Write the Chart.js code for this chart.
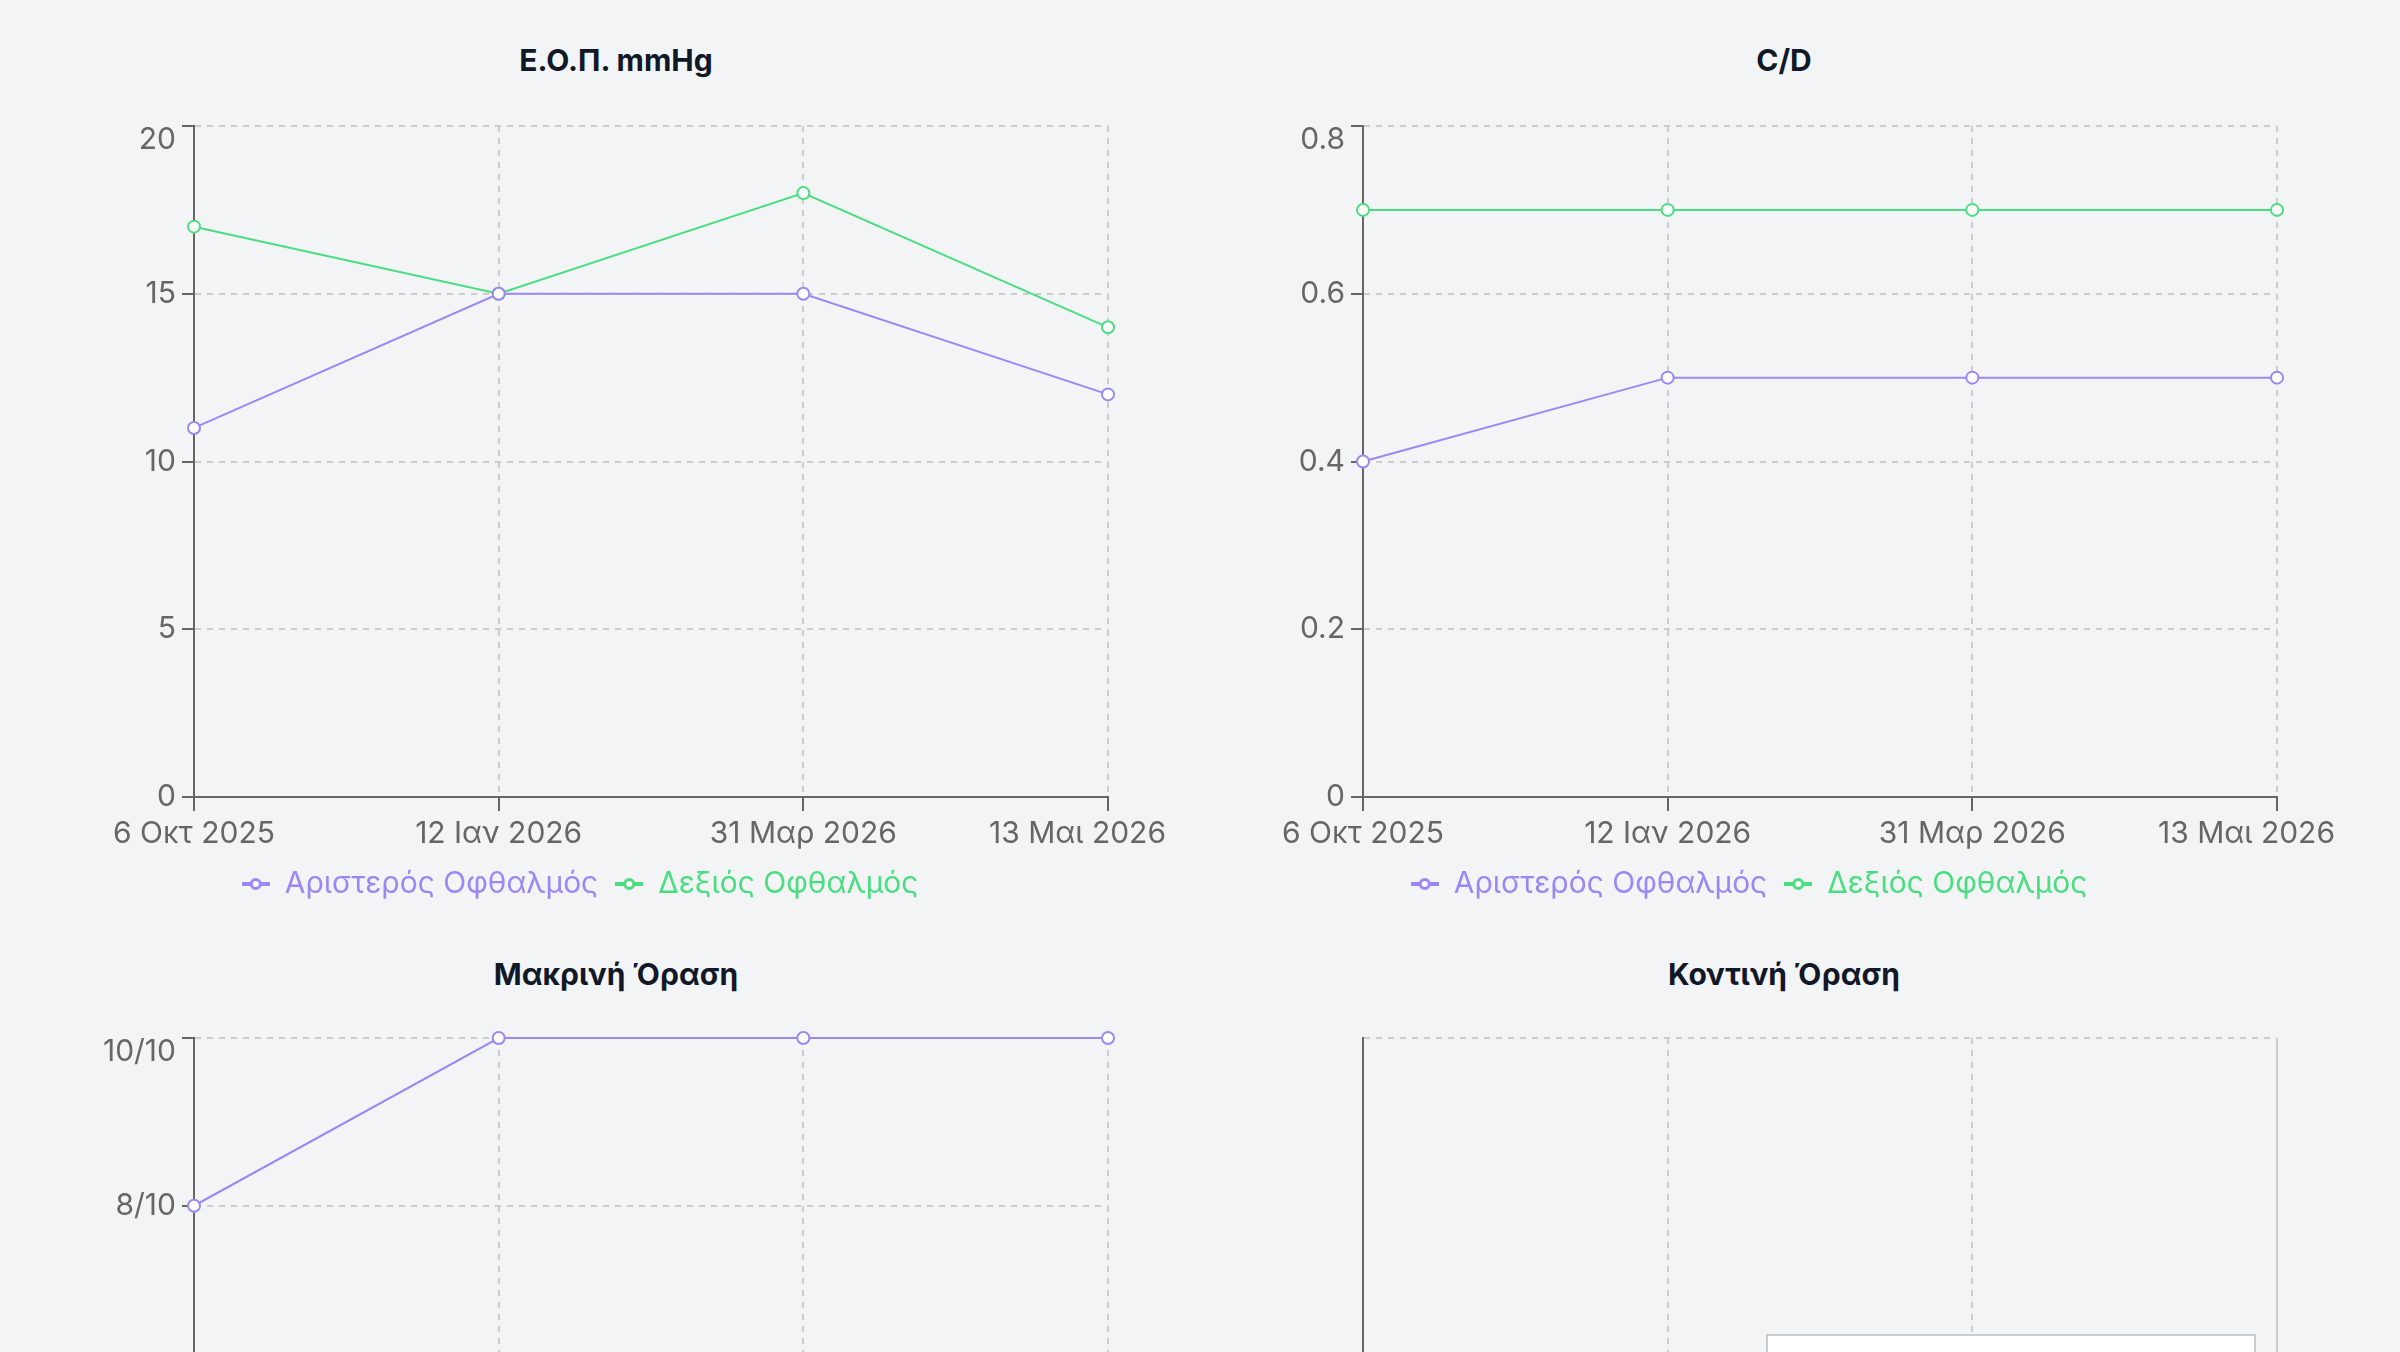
<!DOCTYPE html>
<html lang="el">
<head>
<meta charset="utf-8">
<title>Οφθαλμολογικές μετρήσεις</title>
<script src="https://cdn.jsdelivr.net/npm/chart.js@4.4.1/dist/chart.umd.min.js"></script>
<style>
  html, body { margin: 0; padding: 0; background: #f3f4f6; width: 2400px; height: 1352px; overflow: hidden; }
  body { position: relative; font-family: Inter, "Noto Sans", sans-serif; }
  .title { position: absolute; width: 1136px; margin: 0; text-align: center; font-size: 30px; line-height: 36px; font-weight: 700; color: #111827; }
  canvas { position: absolute; }
  .tip { position: absolute; left: 1766px; top: 1334px; width: 486px; height: 120px; background: #fff; border: 2px solid #ccc; }
</style>
</head>
<body>
<h3 class="title" style="left:48px; top:42px">Ε.Ο.Π. mmHg</h3>
<h3 class="title" style="left:1216px; top:42px">C/D</h3>
<h3 class="title" style="left:48px; top:956px">Μακρινή Όραση</h3>
<h3 class="title" style="left:1216px; top:956px">Κοντινή Όραση</h3>
<canvas id="iop" width="1116" height="809" style="left:52px; top:100px; width:1116px; height:809px"></canvas>
<canvas id="cd" width="1116" height="809" style="left:1221px; top:100px; width:1116px; height:809px"></canvas>
<canvas id="far" width="1116" height="809" style="left:52px; top:1012px; width:1116px; height:809px"></canvas>
<canvas id="near" width="1116" height="809" style="left:1221px; top:1012px; width:1116px; height:809px"></canvas>
<div class="tip"></div>
<script>
// visit dates (x axis)
const dates = ['6 Οκτ 2025', '12 Ιαν 2026', '31 Μαρ 2026', '13 Μαι 2026'];
const eyeNames = ['Αριστερός Οφθαλμός', 'Δεξιός Οφθαλμός'];
const eyeColors = ['#9b87f5', '#4ade80'];

// Ε.Ο.Π. mmHg
const iopLeft = [11, 15, 15, 12];
const iopRight = [17, 15, 18, 14];
const iopTicks = [0, 5, 10, 15, 20];

// C/D
const cdLeft = [0.4, 0.5, 0.5, 0.5];
const cdRight = [0.7, 0.7, 0.7, 0.7];
const cdTicks = [0, 0.2, 0.4, 0.6, 0.8];

// Μακρινή Όραση (x/10)
const farLeft = [8, 10, 10, 10];
const farRight = [null, null, null, null];
const farTicks = [2, 4, 6, 8, 10];

// Κοντινή Όραση: no values recorded
const nearLeft = [null, null, null, null];
const nearRight = [null, null, null, null];
const nearTicks = [0, 1];

Chart.defaults.font.family = 'Inter, "Noto Sans", sans-serif';
Chart.defaults.font.size = 30;
Chart.defaults.color = '#666';

function legendIcon(color) {
  const c = document.createElement('canvas');
  c.width = 28; c.height = 14;
  const g = c.getContext('2d');
  g.strokeStyle = color;
  g.lineWidth = 4;
  g.beginPath(); g.moveTo(0, 7); g.lineTo(28, 7); g.stroke();
  g.beginPath(); g.arc(14, 7, 4.5, 0, Math.PI * 2);
  g.fillStyle = '#fff'; g.fill();
  g.lineWidth = 3; g.stroke();
  return c;
}
const icons = eyeColors.map(legendIcon);

// keeps the last date inside the canvas and the top y label under the top edge
const edgeLabels = {
  id: 'edgeLabels',
  beforeDraw(chart) {
    const ctx = chart.ctx;
    const xs = chart.scales.x.getLabelItems();
    const last = xs[xs.length - 1];
    if (last) {
      ctx.save();
      ctx.font = last.font.string;
      const w = ctx.measureText(last.label).width;
      ctx.restore();
      const maxX = chart.width - 2 - w / 2;
      if (last.options.translation[0] > maxX) last.options.translation[0] = maxX;
    }
    const ys = chart.scales.y.getLabelItems();
    if (ys.length) {
      let top = ys[0];
      ys.forEach(it => { if (it.options.translation[1] < top.options.translation[1]) top = it; });
      const minY = chart.chartArea.top + top.font.size * 0.45;
      if (top.options.translation[1] < minY) top.options.translation[1] = minY;
    }
  }
};

function makeChart(id, left, right, ticks, opts) {
  opts = opts || {};
  const datasets = [left, right].map((data, i) => ({
    label: eyeNames[i],
    data,
    borderColor: eyeColors[i],
    backgroundColor: eyeColors[i],
    borderWidth: 2,
    tension: 0,
    pointRadius: 6,
    pointBorderWidth: 2,
    pointBackgroundColor: '#fff',
    pointBorderColor: eyeColors[i],
    clip: false,
    spanGaps: false
  }));

  return new Chart(document.getElementById(id), {
    type: 'line',
    data: { labels: dates, datasets },
    plugins: [edgeLabels],
    options: {
      responsive: false,
      animation: false,
      events: [],
      layout: { padding: { top: 26, left: 0, right: 60, bottom: 0 } },
      plugins: {
        title: { display: false },
        tooltip: { enabled: false },
        legend: {
          position: 'bottom',
          labels: {
            usePointStyle: true,
            pointStyleWidth: 28,
            padding: 17,
            font: { size: 30 },
            generateLabels: chart => chart.data.datasets.map((ds, i) => ({
              text: ds.label,
              fontColor: ds.borderColor,
              pointStyle: icons[i],
              datasetIndex: i,
              hidden: false,
              lineWidth: 0,
              strokeStyle: ds.borderColor,
              fillStyle: ds.borderColor
            }))
          }
        }
      },
      scales: {
        x: {
          type: 'category',
          offset: false,
          afterFit: s => { s.height = 55; s.paddingLeft = 0; s.paddingRight = 0; },
          grid: {
            color: '#ccc',
            lineWidth: 2,
            tickLength: 14,
            tickColor: '#666',
            tickWidth: 2,
            tickBorderDash: [],
            offset: false
          },
          border: {
            display: true, color: '#666', width: 2,
            dash: opts.cursorAt != null ? (c => c.index === opts.cursorAt ? [] : [6, 6]) : [6, 6]
          },
          ticks: { color: '#666', padding: 5, maxRotation: 0, autoSkip: false, font: { size: 30 } }
        },
        y: {
          min: ticks[0],
          max: ticks[ticks.length - 1],
          afterBuildTicks: s => { s.ticks = ticks.map(v => ({ value: v })); },
          afterFit: s => { s.width = 142; s.paddingTop = 0; s.paddingBottom = 0; },
          grid: {
            color: '#ccc',
            lineWidth: 2,
            drawTicks: !opts.hideTicks,
            tickLength: 12,
            tickColor: '#666',
            tickWidth: 2,
            tickBorderDash: []
          },
          border: { display: true, color: '#666', width: 2, dash: [6, 6] },
          ticks: {
            display: !opts.hideTicks,
            color: '#666',
            padding: 6,
            font: { size: 30 },
            callback: opts.format || (v => String(v))
          }
        }
      }
    }
  });
}

makeChart('iop', iopLeft, iopRight, iopTicks);
makeChart('cd', cdLeft, cdRight, cdTicks);
makeChart('far', farLeft, farRight, farTicks, { format: v => v + '/10' });
makeChart('near', nearLeft, nearRight, nearTicks, { hideTicks: true, cursorAt: 3 });
</script>
</body>
</html>
